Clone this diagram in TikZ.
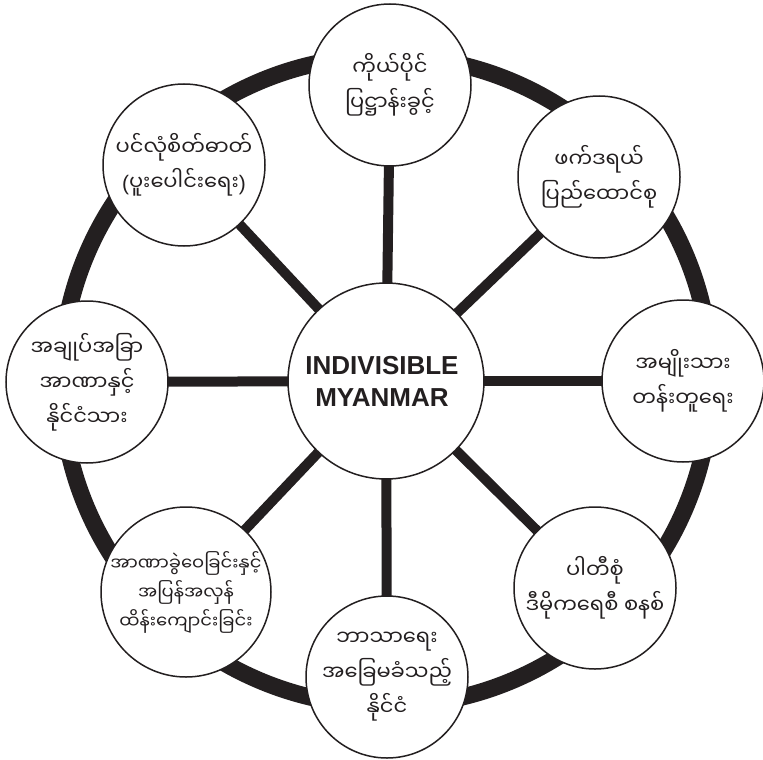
\documentclass[tikz,border=0pt]{standalone}
\usepackage{fontspec}
\newfontfamily\mya[Script=Myanmar]{Noto Sans Myanmar UI}
\newfontfamily\latb{Liberation Sans}
\definecolor{ink}{HTML}{231F20}
\begin{document}
\begin{tikzpicture}[x=1pt,y=-1pt,
  ringline/.style={draw=ink,line width=17pt},
  spoke/.style={draw=ink,line width=10pt},
  outer/.style={circle,draw=ink,fill=white,line width=1.5pt,minimum size=162pt,inner sep=0pt},
  hub/.style={circle,draw=ink,fill=white,line width=1.5pt,minimum size=196pt,inner sep=0pt},
  mtxt/.style={align=center,text=ink,inner sep=0pt,font=\mya\fontsize{21}{35}\selectfont},
  stxt/.style={align=center,text=ink,inner sep=0pt,font=\mya\fontsize{18}{29}\selectfont},
  htxt/.style={align=center,text=ink,inner sep=0pt,font=\latb\bfseries\fontsize{26}{32}\selectfont}]
\useasboundingbox (0,0) rectangle (763,760);
\coordinate (c0) at (386,381);
\draw[ringline] (c0) circle [radius=325pt];
\coordinate (p1) at (390,85);
\coordinate (p2) at (599,177);
\coordinate (p3) at (683,381);
\coordinate (p4) at (595,588);
\coordinate (p5) at (387,677);
\coordinate (p6) at (186,592);
\coordinate (p7) at (87,382);
\coordinate (p8) at (184,165);
\foreach \i in {1,...,8} {\draw[spoke] (c0) -- (p\i);}
\node[hub] (hub) at (c0) {};
\node[outer] (n1) at (p1) {};
\node[outer] (n2) at (p2) {};
\node[outer] (n3) at (p3) {};
\node[outer] (n4) at (p4) {};
\node[outer] (n5) at (p5) {};
\node[outer,minimum size=170pt] (n6) at (p6) {};
\node[outer] (n7) at (p7) {};
\node[outer] (n8) at (p8) {};
\node[htxt] (th) at ([xshift=-4pt]hub.center) {INDIVISIBLE\\MYANMAR};
\node[mtxt] (t1) at (n1) {ကိုယ်ပိုင်\\ပြဋ္ဌာန်းခွင့်};
\node[mtxt] (t2) at (n2) {ဖက်ဒရယ်\\ပြည်ထောင်စု};
\node[mtxt] (t3) at (n3) {အမျိုးသား\\တန်းတူရေး};
\node[mtxt] (t4) at (n4) {ပါတီစုံ\\ဒီမိုကရေစီ စနစ်};
\node[mtxt] (t5) at (n5) {ဘာသာရေး\\အခြေမခံသည့်\\နိုင်ငံ};
\node[stxt] (t6) at (n6) {အာဏာခွဲဝေခြင်းနှင့်\\အပြန်အလှန်\\ထိန်းကျောင်းခြင်း};
\node[mtxt] (t7) at (n7) {အချုပ်အခြာ\\အာဏာနှင့်\\နိုင်ငံသား};
\node[mtxt] (t8) at (n8) {ပင်လုံစိတ်ဓာတ်\\{\latb(}ပူးပေါင်းရေး{\latb)}};
\end{tikzpicture}
\end{document}
